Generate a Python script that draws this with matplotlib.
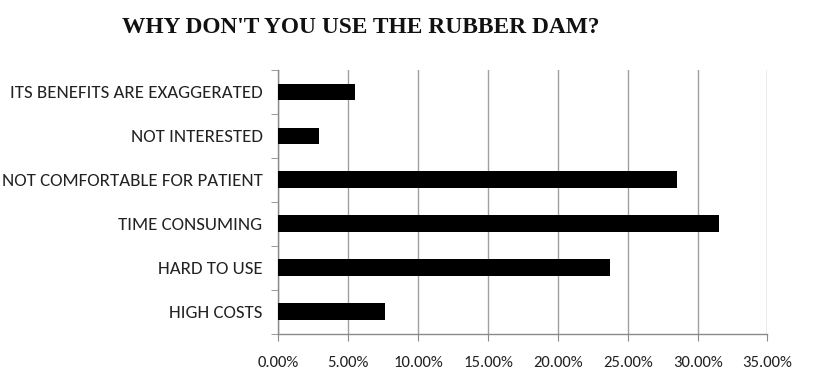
import matplotlib
matplotlib.use("Agg")
import matplotlib.pyplot as plt
from matplotlib.ticker import FuncFormatter, MultipleLocator

# Survey answers, listed bottom to top as they appear on the axis
reasons = [
    "HIGH COSTS",
    "HARD TO USE",
    "TIME CONSUMING",
    "NOT COMFORTABLE FOR PATIENT",
    "NOT INTERESTED",
    "ITS BENEFITS ARE EXAGGERATED",
]
shares = [7.6, 23.7, 31.5, 28.5, 2.9, 5.5]  # percent of respondents
x_ticks = [0, 5, 10, 15, 20, 25, 30, 35]

title_text = "WHY DON'T YOU USE THE RUBBER DAM?"

W, H, DPI = 829, 370, 100
fig = plt.figure(figsize=(W / DPI, H / DPI), dpi=DPI)
fig.patch.set_facecolor("white")

# axes box in pixel coordinates
left, right, top, bottom = 278.5, 767.5, 70.0, 333.5
ax = fig.add_axes([left / W, 1 - bottom / H, (right - left) / W, (bottom - top) / H])

label_font = ["Carlito", "Liberation Sans", "DejaVu Sans"]

ypos = list(range(len(reasons)))
ax.barh(ypos, shares, height=0.38, color="black", zorder=3)

ax.set_xlim(x_ticks[0], x_ticks[-1])
ax.set_ylim(-0.5, len(reasons) - 0.5)
ax.set_xticks(x_ticks)
ax.xaxis.set_major_formatter(FuncFormatter(lambda v, _: f"{v:.2f}%"))

ax.set_yticks(ypos)
ax.set_yticklabels(reasons)
ax.yaxis.set_minor_locator(MultipleLocator(1, offset=0.5))

ax.grid(axis="x", color="#a0a0a0", linewidth=1.0, zorder=0)
ax.set_axisbelow(True)

for side in ("top", "right"):
    ax.spines[side].set_visible(False)
for side in ("left", "bottom"):
    ax.spines[side].set_color("#8a8a8a")
    ax.spines[side].set_linewidth(1.0)

ax.tick_params(axis="x", which="major", direction="out", length=5, color="#8a8a8a",
               labelsize=12, pad=11, labelcolor="#222222")
ax.tick_params(axis="y", which="major", length=0, pad=11.5, labelsize=13.6,
               labelcolor="#222222")
ax.tick_params(axis="y", which="minor", direction="out", length=5, color="#8a8a8a")

for lab in ax.get_xticklabels() + ax.get_yticklabels():
    lab.set_family(label_font)

fig.text(361 / W, 1 - 27.5 / H, title_text, ha="center", va="center",
         fontsize=16.8, fontweight="bold",
         family=["Liberation Serif", "DejaVu Serif"], color="#111111")

fig.savefig("out.png", dpi=DPI, facecolor="white")
